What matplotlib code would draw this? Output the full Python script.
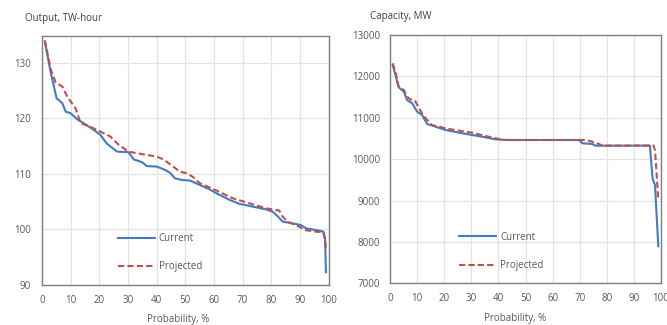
import matplotlib
matplotlib.use("Agg")
import matplotlib.pyplot as plt

plt.rcParams['font.family'] = ['Open Sans', 'DejaVu Sans']

# ---- Left chart: Output, TW-hour ----
out_cur_x = [1, 3.1, 5.1, 7.1, 8.25, 10, 12.3, 14.6, 18.1, 20.4, 22.7, 26.2, 30.2, 32,
             34.9, 36.6, 40.1, 43, 44.7, 46.4, 48.7, 51.6, 55.1, 58.5, 60.9, 65.5, 68.9,
             73.6, 78.2, 80.5, 82.2, 84, 86.3, 90.3, 92.1, 95.5, 98.2, 98.8, 99.1]
out_cur_y = [133.8, 128.1, 123.6, 122.7, 121.2, 120.9, 119.8, 119.1, 117.9, 117.0, 115.4,
             114.0, 113.9, 112.6, 112.1, 111.4, 111.3, 110.7, 110.2, 109.2, 108.9, 108.8,
             108.0, 107.2, 106.5, 105.3, 104.6, 104.1, 103.6, 103.2, 102.4, 101.4, 101.2,
             100.8, 100.2, 99.9, 99.6, 98.5, 92.3]

out_proj_x = [1, 3.1, 4.8, 7.1, 8.8, 11.7, 13.5, 16.3, 20.4, 23.9, 26.8, 30.2, 34.3, 40.0,
              42.4, 45.8, 48.1, 50.5, 52.8, 55.1, 60.9, 66.6, 72.4, 78.2, 82.8, 84, 85.7,
              89.8, 91.5, 95.5, 98.2, 98.9, 99.1]
out_proj_y = [134.0, 128.7, 126.4, 125.7, 123.9, 121.8, 119.1, 118.6, 117.6, 116.7, 115.2,
              114.0, 113.6, 113.1, 112.6, 111.3, 110.4, 110.1, 109.4, 108.3, 107.0, 105.6,
              104.7, 103.8, 103.4, 102.3, 101.4, 100.5, 99.9, 99.6, 99.5, 97.5, 96.3]

# ---- Right chart: Capacity, MW ----
cap_cur_x = [1, 2.0, 3.2, 5.1, 6.3, 8.2, 10, 11.8, 13.7, 16.8, 20.5, 25.4, 30.3, 35.2, 38.9,
             42.6, 69.7, 71, 74.6, 75.8, 95.9, 96.9, 97.8, 99]
cap_cur_y = [12280, 12034, 11736, 11631, 11430, 11349, 11148, 11067, 10850, 10785, 10705,
             10640, 10584, 10528, 10479, 10463, 10463, 10383, 10367, 10326, 10326, 9533,
             9371, 7895]

cap_proj_x = [1, 2.0, 3.2, 5.1, 6.3, 7.5, 9.1, 10.4, 11.8, 13.7, 15.5, 20.5, 25.4, 30.3,
              35.2, 38.9, 42.6, 67.2, 72.1, 74.6, 77.1, 78.3, 97.2, 97.8, 99]
cap_proj_y = [12315, 12114, 11750, 11670, 11510, 11445, 11430, 11268, 11107, 10946, 10826,
              10745, 10689, 10640, 10560, 10504, 10463, 10463, 10463, 10423, 10367, 10326,
              10330, 10217, 9008]

series_labels = ["Current", "Projected"]
x_ticks = list(range(0, 101, 10))
out_ticks = [90, 100, 110, 120, 130]
cap_ticks = [7000, 8000, 9000, 10000, 11000, 12000, 13000]

BLUE = "#4579c0"
RED = "#c0504d"
GRID = "#e3e3e3"
SPINE = "#7f7f7f"
TXT = "#595959"

fig = plt.figure(figsize=(6.67, 3.25), dpi=100)
ax1 = fig.add_axes([42/667, 40/325, 286.5/667, 249/325])
ax2 = fig.add_axes([390/667, 41.7/325, 271/667, 248.3/325])

def style(ax, yticks, ylim, pad_y, legx, labx):
    ax.set_xlim(0, 100)
    ax.set_ylim(*ylim)
    ax.set_xticks(x_ticks)
    ax.set_yticks(yticks)
    ax.grid(True, color=GRID, lw=0.9)
    ax.set_axisbelow(True)
    for s in ax.spines.values():
        s.set_color(SPINE)
        s.set_linewidth(1.0)
    ax.tick_params(axis='both', length=0, labelsize=7, labelcolor=TXT)
    ax.tick_params(axis='y', pad=pad_y)
    ax.tick_params(axis='x', pad=7)
    ax.set_xlabel("Probability, %", fontsize=7, color=TXT)
    ax.xaxis.set_label_coords(labx, -0.14)
    ax.xaxis.label.set_va('center')
    leg = ax.legend(loc='upper left', bbox_to_anchor=(legx, 0.207), frameon=False,
                    fontsize=7, handlelength=3.8, handletextpad=0.4, labelspacing=1.75,
                    borderaxespad=0, borderpad=0)
    for t in leg.get_texts():
        t.set_color(TXT)

ax1.plot(out_cur_x, out_cur_y, color=BLUE, lw=1.5, label=series_labels[0])
ax1.plot(out_proj_x, out_proj_y, color=RED, lw=1.5, ls=(0, (3, 1.5)), label=series_labels[1])
style(ax1, out_ticks, (90, 134.8), 8, 0.265, 0.476)

ax2.plot(cap_cur_x, cap_cur_y, color=BLUE, lw=1.5, label=series_labels[0])
ax2.plot(cap_proj_x, cap_proj_y, color=RED, lw=1.5, ls=(0, (3, 1.5)), label=series_labels[1])
style(ax2, cap_ticks, (7000, 13000), 7, 0.255, 0.463)

fig.text(25/667, 1 - 18/325, "Output, TW-hour", fontsize=7, color="#404040",
         ha='left', va='center')
fig.text(370/667, 1 - 17/325, "Capacity, MW", fontsize=7, color="#404040",
         ha='left', va='center')

fig.savefig("out.png", dpi=100)
